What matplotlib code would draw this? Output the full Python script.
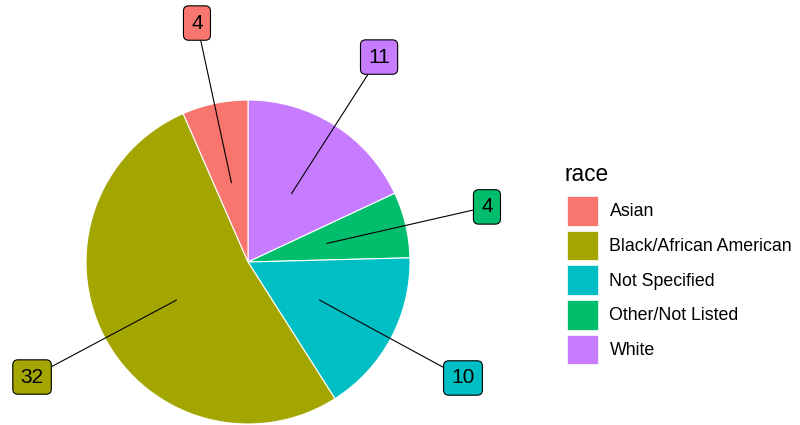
import matplotlib
matplotlib.use("Agg")
import matplotlib.pyplot as plt
import numpy as np
from matplotlib.patches import Patch

plt.rcParams['font.family'] = ['Liberation Sans', 'DejaVu Sans']

categories = ["Asian", "Black/African American", "Not Specified", "Other/Not Listed", "White"]
counts = [4, 32, 10, 4, 11]
colors = ["#F8766D", "#A3A500", "#00BFC4", "#00BE6C", "#C77CFF"]

# label box positions (layout, data units of the pie where radius = 1)
label_pos = {
    "Asian": (-0.315, 1.475),
    "Black/African American": (-1.333, -0.710),
    "Not Specified": (1.327, -0.716),
    "Other/Not Listed": (1.475, 0.340),
    "White": (0.809, 1.265),
}

W, H = 800, 425
fig = plt.figure(figsize=(W / 100, H / 100), dpi=100)
cx, cy, R = 248, 262, 162
axw = 540
ax = fig.add_axes([0, 0, axw / W, 1])

order = list(range(len(categories)))[::-1]
vals = [counts[i] for i in order]
cols = [colors[i] for i in order]
wedges, _ = ax.pie(vals, colors=cols, startangle=90, counterclock=False, radius=1,
                   wedgeprops=dict(edgecolor="white", linewidth=0.8))

for w, i in zip(wedges, order):
    mid = np.deg2rad((w.theta1 + w.theta2) / 2)
    px, py = 0.5 * np.cos(mid), 0.5 * np.sin(mid)
    tx, ty = label_pos[categories[i]]
    ax.annotate(str(counts[i]), xy=(px, py), xytext=(tx, ty), ha="center", va="center",
                fontsize=15, color="black",
                bbox=dict(boxstyle="round,pad=0.37,rounding_size=0.25", fc=colors[i], ec="black", lw=0.8),
                arrowprops=dict(arrowstyle="-", color="black", lw=0.8, shrinkA=0, shrinkB=0))

ax.set_xlim((0 - cx) / R, (axw - cx) / R)
ax.set_ylim((cy - H) / R, cy / R)
ax.set_aspect("equal", adjustable="datalim")
ax.axis("off")

fig.text(564 / W, 1 - 181 / H, "race", fontsize=16.3, ha="left", va="baseline")
handles = [Patch(facecolor=c, edgecolor="white", lw=0.5) for c in colors]
leg = fig.legend(handles, categories, loc="upper left",
                 bbox_to_anchor=(567 / W, 1 - 196 / H), frameon=False,
                 fontsize=12.8, handlelength=1.72, handleheight=2.19,
                 labelspacing=0.28, handletextpad=0.67, borderaxespad=0, borderpad=0)

fig.savefig("out.png", dpi=100)
